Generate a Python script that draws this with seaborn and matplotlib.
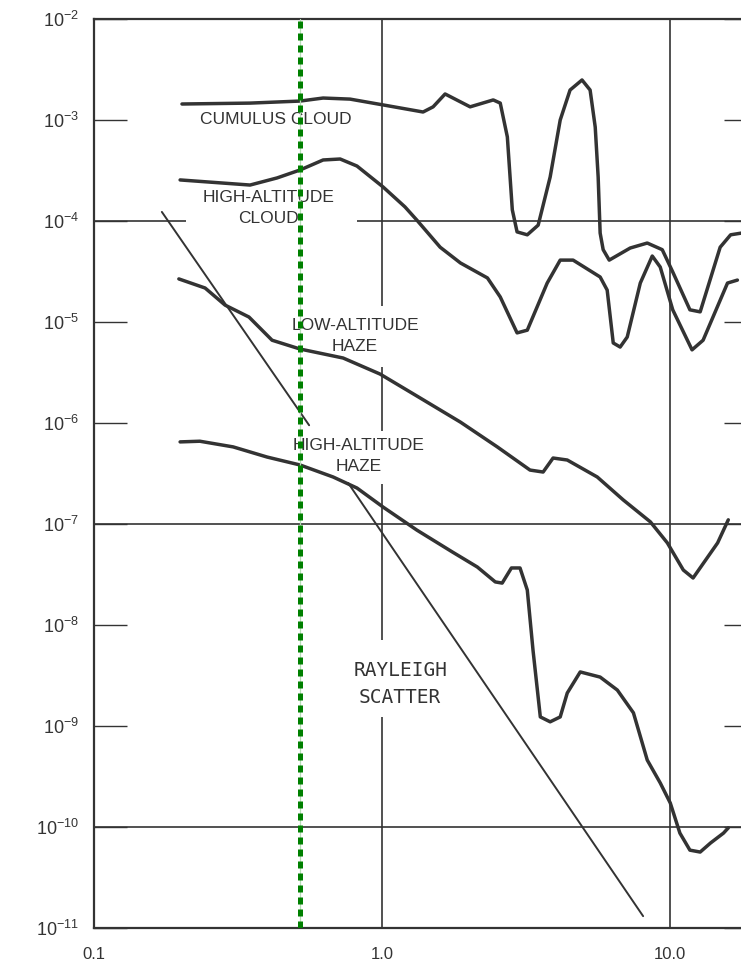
import matplotlib
matplotlib.use("Agg")
import matplotlib.pyplot as plt
import numpy as np
import pandas as pd
import seaborn as sns

# ---- data (wavelength in micrometres, extinction value) ----
cumulus_wl = [0.202, 0.348, 0.519, 0.624, 0.774, 1.008, 1.387, 1.503, 1.654, 2.02, 2.43, 2.57,
              2.72, 2.83, 2.94, 3.19, 3.48, 3.83, 4.15, 4.49, 4.94, 5.27, 5.49, 5.62, 5.71,
              5.85, 6.14, 7.26, 8.32, 9.38, 10.2, 11.7, 12.7, 14.9, 16.2, 17.7]
cumulus_val = [1.44e-3, 1.47e-3, 1.54e-3, 1.65e-3, 1.61e-3, 1.41e-3, 1.20e-3, 1.35e-3, 1.81e-3,
               1.35e-3, 1.58e-3, 1.47e-3, 6.8e-4, 1.29e-4, 7.8e-5, 7.3e-5, 9.1e-5, 2.73e-4,
               1.0e-3, 1.98e-3, 2.49e-3, 1.98e-3, 8.5e-4, 2.73e-4, 7.6e-5, 5.2e-5, 4.1e-5,
               5.4e-5, 6.05e-5, 5.2e-5, 3.13e-5, 1.32e-5, 1.26e-5, 5.5e-5, 7.3e-5, 7.6e-5]

hacloud_wl = [0.199, 0.348, 0.432, 0.519, 0.624, 0.715, 0.818, 1.008, 1.20, 1.32, 1.59, 1.87,
              2.32, 2.57, 2.94, 3.19, 3.74, 4.15, 4.60, 5.71, 6.04, 6.34, 6.70, 7.09, 7.87,
              8.66, 9.23, 10.2, 11.9, 13.0, 15.8, 17.1]
hacloud_val = [2.55e-4, 2.27e-4, 2.67e-4, 3.2e-4, 4.02e-4, 4.11e-4, 3.5e-4, 2.17e-4, 1.38e-4,
               1.02e-4, 5.5e-5, 3.84e-5, 2.73e-5, 1.77e-5, 7.8e-6, 8.3e-6, 2.43e-5, 4.1e-5,
               4.1e-5, 2.79e-5, 2.07e-5, 6.2e-6, 5.65e-6, 7.1e-6, 2.43e-5, 4.5e-5, 3.5e-5,
               1.32e-5, 5.3e-6, 6.6e-6, 2.43e-5, 2.6e-5]

lahaze_wl = [0.197, 0.243, 0.285, 0.345, 0.415, 0.519, 0.732, 0.984, 1.32, 1.87, 2.51, 3.26,
             3.62, 3.92, 4.39, 5.58, 6.87, 8.53, 9.77, 11.1, 12.0, 14.6, 15.9]
lahaze_val = [2.67e-5, 2.17e-5, 1.47e-5, 1.12e-5, 6.6e-6, 5.4e-6, 4.4e-6, 3.05e-6, 1.85e-6,
              1.02e-6, 5.8e-7, 3.42e-7, 3.27e-7, 4.5e-7, 4.3e-7, 2.92e-7, 1.73e-7, 1.05e-7,
              6.5e-8, 3.5e-8, 2.92e-8, 6.5e-8, 1.10e-7]

hahaze_wl = [0.199, 0.233, 0.304, 0.399, 0.519, 0.676, 0.818, 1.008, 1.32, 1.75, 2.14, 2.47,
             2.61, 2.81, 3.01, 3.19, 3.34, 3.54, 3.83, 4.15, 4.39, 4.87, 5.71, 6.55, 7.45,
             8.32, 9.23, 10.0, 10.8, 11.7, 12.7, 13.8, 15.3, 15.9]
hahaze_val = [6.5e-7, 6.6e-7, 5.8e-7, 4.6e-7, 3.84e-7, 2.92e-7, 2.27e-7, 1.47e-7, 8.7e-8,
              5.3e-8, 3.75e-8, 2.67e-8, 2.6e-8, 3.67e-8, 3.67e-8, 2.22e-8, 5.6e-9, 1.23e-9,
              1.10e-9, 1.23e-9, 2.12e-9, 3.43e-9, 3.05e-9, 2.27e-9, 1.35e-9, 4.6e-10,
              2.73e-10, 1.73e-10, 8.7e-11, 5.9e-11, 5.65e-11, 6.95e-11, 8.7e-11, 9.8e-11]

rayleigh_upper_wl = [0.172, 0.558]
rayleigh_upper_val = [1.23e-4, 9.5e-7]
rayleigh_lower_wl = [0.762, 8.05]
rayleigh_lower_val = [2.55e-7, 1.31e-11]

marker_wl = 0.52

ytick_vals = [1e-2, 1e-3, 1e-4, 1e-5, 1e-6, 1e-7, 1e-8, 1e-9, 1e-10, 1e-11]
ytick_labels = [r"$\mathregular{10^{-2}}$", r"$\mathregular{10^{-3}}$", r"$\mathregular{10^{-4}}$",
                r"$\mathregular{10^{-5}}$", r"$\mathregular{10^{-6}}$", r"$\mathregular{10^{-7}}$",
                r"$\mathregular{10^{-8}}$", r"$\mathregular{10^{-9}}$", r"$\mathregular{10^{-10}}$",
                r"$\mathregular{10^{-11}}$"]
xtick_vals = [0.1, 1.0, 10.0]
xtick_labels = ["0.1", "1.0", "10.0"]

# ---- style ----
sns.set_style("white")
plt.rcParams["font.family"] = ["Liberation Sans", "DejaVu Sans"]
plt.rcParams["mathtext.default"] = "regular"

INK = "#333333"

fig = plt.figure(figsize=(7.41, 9.68), dpi=100)
ax = fig.add_axes([94 / 741, 40 / 968, (757 - 94) / 741, (928 - 19) / 968])
ax.set_xscale("log")
ax.set_yscale("log")
ax.set_xlim(0.1, 20.0)
ax.set_ylim(1e-11, 1e-2)

# grid lines (with gaps where the labels sit)
gkw = dict(color=INK, lw=1.2, zorder=1)
ax.hlines(1e-4, 0.1, 0.208, **gkw)
ax.hlines(1e-4, 0.818, 20.0, **gkw)
ax.hlines([1e-7, 1e-10], 0.1, 20.0, **gkw)
ax.vlines(10.0, 1e-11, 1e-2, **gkw)
for lo, hi in [(1.45e-5, 1e-2), (8.4e-7, 3.6e-6), (7.1e-9, 2.5e-7), (1e-11, 1.23e-9)]:
    ax.vlines(1.0, lo, hi, **gkw)

# curves
curve_kw = dict(color=INK, linewidth=2.5, sort=False, estimator=None, ax=ax,
                solid_joinstyle="round", solid_capstyle="round", zorder=3)
for wl, val in [(cumulus_wl, cumulus_val), (hacloud_wl, hacloud_val),
                (lahaze_wl, lahaze_val), (hahaze_wl, hahaze_val)]:
    df = pd.DataFrame({"wl": wl, "val": val})
    sns.lineplot(data=df, x="wl", y="val", **curve_kw)

line_kw = dict(color=INK, linewidth=1.4, sort=False, estimator=None, ax=ax, zorder=3)
for wl, val in [(rayleigh_upper_wl, rayleigh_upper_val), (rayleigh_lower_wl, rayleigh_lower_val)]:
    df = pd.DataFrame({"wl": wl, "val": val})
    sns.lineplot(data=df, x="wl", y="val", **line_kw)

# green dotted marker line
ax.axvline(marker_wl, color="#b5dcb5", lw=0.9, zorder=5)
ax.axvline(marker_wl, color="#008000", lw=3.6, linestyle=(0, (1.4, 1.0)), zorder=6)

# labels
tkw = dict(color=INK, fontsize=12.5, ha="center", va="center", zorder=4, linespacing=1.45)
ax.text(0.428, 1.02e-3, "CUMULUS CLOUD", **tkw)
ax.text(0.402, 1.35e-4, "HIGH-ALTITUDE\nCLOUD", **tkw)
ax.text(0.805, 7.26e-6, "LOW-ALTITUDE\nHAZE", **tkw)
ax.text(0.826, 4.71e-7, "HIGH-ALTITUDE\nHAZE", **tkw)
ax.text(1.155, 2.6e-9, "RAYLEIGH\nSCATTER", color=INK, fontsize=14, ha="center", va="center",
        family="DejaVu Sans Mono", linespacing=1.5, zorder=4)

# axes and ticks
for side in ["left", "top", "bottom"]:
    ax.spines[side].set_color(INK)
    ax.spines[side].set_linewidth(1.6)
ax.spines["right"].set_visible(False)

ax.set_yticks(ytick_vals)
ax.set_yticklabels(ytick_labels)
ax.yaxis.set_minor_locator(matplotlib.ticker.NullLocator())
ax.tick_params(axis="y", which="major", direction="in", length=24, width=1.0, color=INK,
               left=True, right=True, labelsize=13, pad=11, labelcolor=INK)
ax.set_xticks(xtick_vals)
ax.set_xticklabels(xtick_labels)
ax.xaxis.set_minor_locator(matplotlib.ticker.NullLocator())
ax.tick_params(axis="x", which="major", length=0, labelsize=12, pad=14, labelcolor=INK)
ax.set_xlabel("")
ax.set_ylabel("")

fig.savefig("out.png", dpi=100)
